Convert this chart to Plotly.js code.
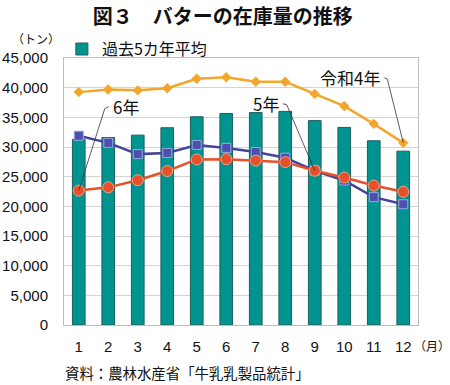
<!DOCTYPE html>
<html>
<head>
<meta charset="utf-8">
<script src="https://cdn.plot.ly/plotly-3.0.1.min.js"></script>
<style>
html,body{margin:0;padding:0;background:#fff;}
#chart{width:450px;height:385px;}
</style>
</head>
<body>
<div id="chart"></div>
<script>
const months = ['1','2','3','4','5','6','7','8','9','10','11','12'];
const avg5 = [31300, 31600, 32000, 33250, 35100, 35650, 35800, 36000, 34450, 33300, 31050, 29300];
const r4 = [39250, 39700, 39550, 39900, 41500, 41750, 41000, 41000, 38950, 36900, 33900, 30700];
const r5 = [31900, 30700, 28800, 29000, 30350, 29850, 29150, 28200, 26000, 24350, 21550, 20350];
const r6 = [22650, 23200, 24400, 25950, 27900, 27950, 27700, 27450, 26000, 24850, 23500, 22450];
const yTicks = [0, 5000, 10000, 15000, 20000, 25000, 30000, 35000, 40000, 45000];
const yTickText = ['0', '5,000', '10,000', '15,000', '20,000', '25,000', '30,000', '35,000', '40,000', '45,000'];

const jp = '"Noto Sans CJK JP", "Noto Sans", sans-serif';
const num = '"Liberation Sans", Arial, sans-serif';

const traces = [
  {type:'bar', x:months, y:avg5, name:'過去5カ年平均',
   marker:{color:'#009490', line:{color:'#1d5f5c', width:1}}, showlegend:true},
  {type:'scatter', mode:'lines+markers', x:months, y:r4, name:'令和4年', showlegend:false,
   line:{color:'#F2A72C', width:2.5}, marker:{symbol:'diamond', size:8, color:'#F2A72C'}},
  {type:'scatter', mode:'lines+markers', x:months, y:r5, name:'5年', showlegend:false,
   line:{color:'#43449C', width:2.5}, marker:{symbol:'square', size:9, color:'#4F4FB0', line:{color:'#9aa6e0', width:1}}},
  {type:'scatter', mode:'lines+markers', x:months, y:r6, name:'6年', showlegend:false,
   line:{color:'#E6502A', width:2.5}, marker:{symbol:'circle', size:11, color:'#E6502A', line:{color:'#f3a48a', width:1}}}
];

function leader(xi, yv, pts){
  const shapes = [];
  let prev = [0,0];
  pts.forEach(p => {
    shapes.push({type:'line', xref:'x', yref:'y', xsizemode:'pixel', ysizemode:'pixel',
      xanchor:xi, yanchor:yv, x0:prev[0], y0:prev[1], x1:p[0], y1:p[1],
      line:{color:'#333', width:0.8}});
    prev = p;
  });
  return shapes;
}

const shapes = [].concat(
  leader(0, r6[0], [[26, 82], [30, 84]]),
  leader(8, r5[8], [[-28, 66], [-32, 67]]),
  leader(11, r4[11], [[-16, 64], [-19, 65]])
);

const layout = {
  width:450, height:385,
  margin:{l:64, r:32, t:58, b:60},
  paper_bgcolor:'#fff', plot_bgcolor:'#fff',
  bargap:0.57,
  showlegend:true,
  legend:{x:-0.006, y:1.097, xanchor:'left', yanchor:'top', orientation:'h',
    font:{family:jp, size:16, color:'#111'}, bgcolor:'rgba(0,0,0,0)',
    itemwidth:30, tracegroupgap:0},
  title:{text:'図３　バターの在庫量の推移', x:0.495, xanchor:'center', y:0.955, yanchor:'middle',
    font:{family:jp, size:20, color:'#111', weight:600}},
  xaxis:{type:'category', range:[-0.5, 11.5], autorange:false, showgrid:false, showline:true, linecolor:'#bdbdbd', linewidth:1, mirror:true,
    ticks:'', tickfont:{family:num, size:15, color:'#111'}, ticklabelstandoff:8, fixedrange:true},
  yaxis:{range:[0,45000], autorange:false, tickvals:yTicks, ticktext:yTickText, showgrid:true, gridcolor:'#d4d4d4', gridwidth:1,
    showline:true, linecolor:'#bdbdbd', linewidth:1, mirror:true, zeroline:false, ticks:'',
    tickfont:{family:num, size:15, color:'#111'}, ticklabelstandoff:12, fixedrange:true},
  shapes:shapes,
  annotations:[
    {xref:'paper', yref:'paper', x:-0.152, y:1.074, xanchor:'left', yanchor:'middle', showarrow:false,
     text:'（トン）', font:{family:jp, size:12, color:'#111'}},
    {xref:'paper', yref:'paper', x:1.095, y:-0.075, xanchor:'right', yanchor:'middle', showarrow:false,
     text:'（月）', font:{family:jp, size:12, color:'#111'}},
    {xref:'paper', yref:'paper', x:-0.003, y:-0.177, xanchor:'left', yanchor:'middle', showarrow:false,
     text:'資料：農林水産省「牛乳乳製品統計」', font:{family:jp, size:14.4, color:'#111'}},
    {xref:'x', yref:'y', x:0, y:r6[0], xshift:32, yshift:84, xanchor:'left', yanchor:'middle', showarrow:false,
     text:'6年', font:{family:jp, size:17, color:'#111'}},
    {xref:'x', yref:'y', x:8, y:r5[8], xshift:-34, yshift:67, xanchor:'right', yanchor:'middle', showarrow:false,
     text:'5年', font:{family:jp, size:17, color:'#111'}},
    {xref:'x', yref:'y', x:11, y:r4[11], xshift:-21, yshift:65, xanchor:'right', yanchor:'middle', showarrow:false,
     text:'令和4年', font:{family:jp, size:17, color:'#111'}}
  ]
};

Plotly.newPlot('chart', traces, layout, {staticPlot:true, displayModeBar:false});
</script>
</body>
</html>
